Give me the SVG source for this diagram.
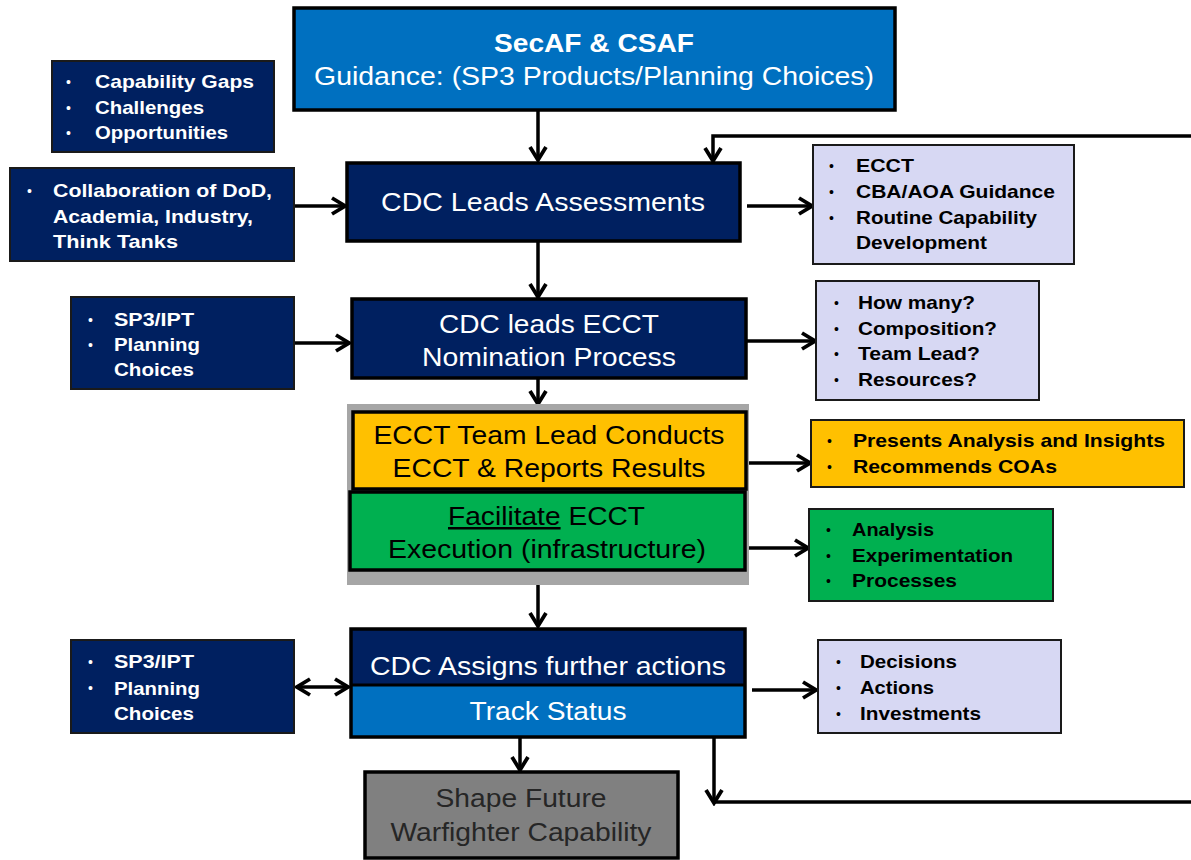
<svg xmlns="http://www.w3.org/2000/svg" width="1191" height="860" viewBox="0 0 1191 860">
<style>
.main{stroke:#000;stroke-width:3.5}
.side{stroke:#1a1a1a;stroke-width:2}
.navy{fill:#002060}
.blue{fill:#0070C0}
.lav{fill:#D7D8F3}
.yel{fill:#FFC000}
.grn{fill:#00B050}
.gry{fill:#808080}
text{font-family:"Liberation Sans",Arial,sans-serif}
.tw{fill:#fff;font-size:26px}
.tb{fill:#000;font-size:25px}
.sw{fill:#fff;font-size:19px;font-weight:bold}
.sb{fill:#000;font-size:19px;font-weight:bold}
.bul{font-size:14px;font-weight:normal}
.conn{fill:none;stroke:#000;stroke-width:3.5}
</style>
<defs>
<marker id="ah" viewBox="0 0 20 20" refX="17" refY="10" markerWidth="20" markerHeight="20" orient="auto-start-reverse" markerUnits="userSpaceOnUse">
<path d="M4,2 L17,10 L4,18" fill="none" stroke="#000" stroke-width="3.8"/>
</marker>
</defs>

<g id="connectors">
<line class="conn" x1="538" y1="110" x2="538" y2="160" marker-end="url(#ah)"/>
<polyline class="conn" points="1191,136 713,136 713,161" marker-end="url(#ah)"/>
<line class="conn" x1="294" y1="206" x2="345" y2="206" marker-end="url(#ah)"/>
<line class="conn" x1="747" y1="206" x2="812" y2="206" marker-end="url(#ah)"/>
<line class="conn" x1="538" y1="241" x2="538" y2="297" marker-end="url(#ah)"/>
<line class="conn" x1="294" y1="343" x2="349" y2="343" marker-end="url(#ah)"/>
<line class="conn" x1="746" y1="341" x2="815" y2="341" marker-end="url(#ah)"/>
<line class="conn" x1="538" y1="378" x2="538" y2="404" marker-end="url(#ah)"/>
<line class="conn" x1="746" y1="463" x2="810" y2="463" marker-end="url(#ah)"/>
<line class="conn" x1="745" y1="548" x2="808" y2="548" marker-end="url(#ah)"/>
<line class="conn" x1="538" y1="585" x2="538" y2="626" marker-end="url(#ah)"/>
<line class="conn" x1="297" y1="687" x2="348" y2="687" marker-start="url(#ah)" marker-end="url(#ah)"/>
<line class="conn" x1="752" y1="690" x2="816" y2="690" marker-end="url(#ah)"/>
<line class="conn" x1="520" y1="737" x2="520" y2="770" marker-end="url(#ah)"/>
<line class="conn" x1="714" y1="737" x2="714" y2="803" marker-end="url(#ah)"/>
<line class="conn" x1="714" y1="802" x2="1191" y2="802"/>
</g>

<g id="guidance">
<rect class="blue main" x="294" y="8" width="601" height="102"/>
<text class="tw" x="594" y="52" text-anchor="middle" font-weight="bold" font-size="24" textLength="200" lengthAdjust="spacingAndGlyphs">SecAF &amp; CSAF</text>
<text class="tw" x="594" y="85" text-anchor="middle" font-size="24" textLength="560" lengthAdjust="spacingAndGlyphs">Guidance: (SP3 Products/Planning Choices)</text>
</g>

<g id="gaps">
<rect class="navy side" x="52" y="61" width="222" height="91"/>
<text class="sw"><tspan class="bul" x="66" y="87">•</tspan><tspan x="95" y="88" textLength="159" lengthAdjust="spacingAndGlyphs">Capability Gaps</tspan></text>
<text class="sw"><tspan class="bul" x="66" y="113">•</tspan><tspan x="95" y="114" textLength="109" lengthAdjust="spacingAndGlyphs">Challenges</tspan></text>
<text class="sw"><tspan class="bul" x="66" y="138">•</tspan><tspan x="95" y="139" textLength="133" lengthAdjust="spacingAndGlyphs">Opportunities</tspan></text>
</g>

<g id="collab">
<rect class="navy side" x="10" y="168" width="284" height="93"/>
<text class="sw"><tspan class="bul" x="27" y="196">•</tspan><tspan x="53" y="197" textLength="219" lengthAdjust="spacingAndGlyphs">Collaboration of DoD,</tspan></text>
<text class="sw" x="53" y="223" textLength="200" lengthAdjust="spacingAndGlyphs">Academia, Industry,</text>
<text class="sw" x="53" y="248" textLength="125" lengthAdjust="spacingAndGlyphs">Think Tanks</text>
</g>

<g id="assess">
<rect class="navy main" x="347" y="163" width="393" height="78"/>
<text class="tw" x="543" y="211" text-anchor="middle" textLength="324" lengthAdjust="spacingAndGlyphs">CDC Leads Assessments</text>
</g>

<g id="ecct-list">
<rect class="lav side" x="813" y="145" width="261" height="119"/>
<text class="sb"><tspan class="bul" x="829" y="171">•</tspan><tspan x="856" y="172" textLength="58" lengthAdjust="spacingAndGlyphs">ECCT</tspan></text>
<text class="sb"><tspan class="bul" x="829" y="197">•</tspan><tspan x="856" y="198" textLength="199" lengthAdjust="spacingAndGlyphs">CBA/AOA Guidance</tspan></text>
<text class="sb"><tspan class="bul" x="829" y="223">•</tspan><tspan x="856" y="224" textLength="181" lengthAdjust="spacingAndGlyphs">Routine Capability</tspan></text>
<text class="sb" x="856" y="249" textLength="131" lengthAdjust="spacingAndGlyphs">Development</text>
</g>

<g id="sp3-1">
<rect class="navy side" x="71" y="297" width="223" height="92"/>
<text class="sw"><tspan class="bul" x="88" y="325">•</tspan><tspan x="114" y="326" textLength="80" lengthAdjust="spacingAndGlyphs">SP3/IPT</tspan></text>
<text class="sw"><tspan class="bul" x="88" y="350">•</tspan><tspan x="114" y="351" textLength="86" lengthAdjust="spacingAndGlyphs">Planning</tspan></text>
<text class="sw" x="114" y="376" textLength="80" lengthAdjust="spacingAndGlyphs">Choices</text>
</g>

<g id="nomination">
<rect class="navy main" x="352" y="299" width="394" height="79"/>
<text class="tw" x="549" y="333" text-anchor="middle" textLength="220" lengthAdjust="spacingAndGlyphs">CDC leads ECCT</text>
<text class="tw" x="549" y="366" text-anchor="middle" textLength="254" lengthAdjust="spacingAndGlyphs">Nomination Process</text>
</g>

<g id="howmany">
<rect class="lav side" x="816" y="281" width="223" height="119"/>
<text class="sb"><tspan class="bul" x="834" y="308">•</tspan><tspan x="858" y="309" textLength="117" lengthAdjust="spacingAndGlyphs">How many?</tspan></text>
<text class="sb"><tspan class="bul" x="834" y="334">•</tspan><tspan x="858" y="335" textLength="139" lengthAdjust="spacingAndGlyphs">Composition?</tspan></text>
<text class="sb"><tspan class="bul" x="834" y="359">•</tspan><tspan x="858" y="360" textLength="122" lengthAdjust="spacingAndGlyphs">Team Lead?</tspan></text>
<text class="sb"><tspan class="bul" x="834" y="385">•</tspan><tspan x="858" y="386" textLength="119" lengthAdjust="spacingAndGlyphs">Resources?</tspan></text>
</g>

<g id="ecct-group">
<rect x="347" y="404" width="402" height="181" fill="#A6A6A6"/>
</g>

<g id="conducts">
<rect class="yel main" x="353" y="412" width="393" height="77"/>
<text class="tb" x="549" y="444" text-anchor="middle" textLength="351" lengthAdjust="spacingAndGlyphs">ECCT Team Lead Conducts</text>
<text class="tb" x="549" y="477" text-anchor="middle" textLength="313" lengthAdjust="spacingAndGlyphs">ECCT &amp; Reports Results</text>
</g>

<g id="facilitate">
<rect class="grn main" x="350" y="492" width="395" height="78"/>
<text class="tb" x="448" y="525" textLength="197" lengthAdjust="spacingAndGlyphs"><tspan text-decoration="underline">Facilitate</tspan> ECCT</text>
<text class="tb" x="547" y="558" text-anchor="middle" textLength="318" lengthAdjust="spacingAndGlyphs">Execution (infrastructure)</text>
</g>

<g id="presents">
<rect class="yel side" x="811" y="420" width="373" height="67"/>
<text class="sb"><tspan class="bul" x="827" y="446">•</tspan><tspan x="853" y="447" textLength="312" lengthAdjust="spacingAndGlyphs">Presents Analysis and Insights</tspan></text>
<text class="sb"><tspan class="bul" x="827" y="472">•</tspan><tspan x="853" y="473" textLength="204" lengthAdjust="spacingAndGlyphs">Recommends COAs</tspan></text>
</g>

<g id="analysis">
<rect class="grn side" x="809" y="509" width="244" height="92"/>
<text class="sb"><tspan class="bul" x="826" y="535">•</tspan><tspan x="852" y="536" textLength="82" lengthAdjust="spacingAndGlyphs">Analysis</tspan></text>
<text class="sb"><tspan class="bul" x="826" y="561">•</tspan><tspan x="852" y="562" textLength="161" lengthAdjust="spacingAndGlyphs">Experimentation</tspan></text>
<text class="sb"><tspan class="bul" x="826" y="586">•</tspan><tspan x="852" y="587" textLength="105" lengthAdjust="spacingAndGlyphs">Processes</tspan></text>
</g>

<g id="sp3-2">
<rect class="navy side" x="71" y="640" width="223" height="93"/>
<text class="sw"><tspan class="bul" x="88" y="667">•</tspan><tspan x="114" y="668" textLength="80" lengthAdjust="spacingAndGlyphs">SP3/IPT</tspan></text>
<text class="sw"><tspan class="bul" x="88" y="693">•</tspan><tspan x="114" y="695" textLength="86" lengthAdjust="spacingAndGlyphs">Planning</tspan></text>
<text class="sw" x="114" y="720" textLength="80" lengthAdjust="spacingAndGlyphs">Choices</text>
</g>

<g id="assigns">
<rect class="navy" x="351" y="629" width="394" height="56"/>
<rect class="blue" x="351" y="685" width="394" height="52"/>
<line x1="351" y1="685" x2="745" y2="685" stroke="#000" stroke-width="3"/>
<rect fill="none" class="main" x="351" y="629" width="394" height="108"/>
<text class="tw" x="548" y="675" text-anchor="middle" textLength="356" lengthAdjust="spacingAndGlyphs">CDC Assigns further actions</text>
<text class="tw" x="548" y="720" text-anchor="middle" textLength="157" lengthAdjust="spacingAndGlyphs">Track Status</text>
</g>

<g id="decisions">
<rect class="lav side" x="818" y="640" width="243" height="93"/>
<text class="sb"><tspan class="bul" x="836" y="667">•</tspan><tspan x="860" y="668" textLength="97" lengthAdjust="spacingAndGlyphs">Decisions</tspan></text>
<text class="sb"><tspan class="bul" x="836" y="693">•</tspan><tspan x="860" y="694" textLength="74" lengthAdjust="spacingAndGlyphs">Actions</tspan></text>
<text class="sb"><tspan class="bul" x="836" y="719">•</tspan><tspan x="860" y="720" textLength="121" lengthAdjust="spacingAndGlyphs">Investments</tspan></text>
</g>

<g id="shape">
<rect class="gry main" x="365" y="772" width="313" height="86"/>
<text x="521" y="807" text-anchor="middle" font-size="26" fill="#262626" textLength="171" lengthAdjust="spacingAndGlyphs">Shape Future</text>
<text x="521" y="841" text-anchor="middle" font-size="26" fill="#262626" textLength="261" lengthAdjust="spacingAndGlyphs">Warfighter Capability</text>
</g>
</svg>
